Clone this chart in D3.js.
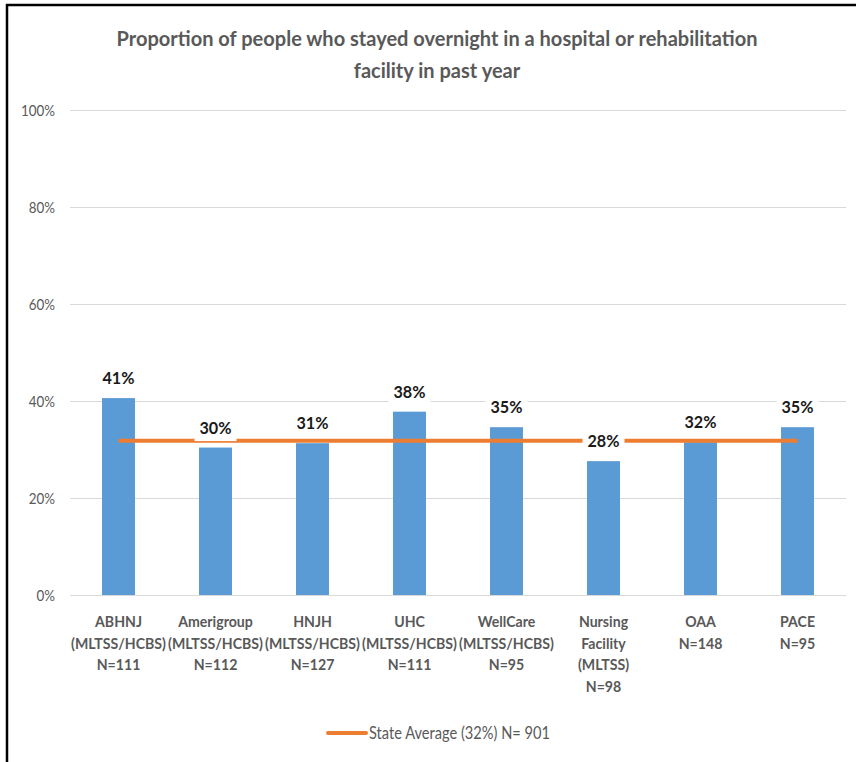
<!DOCTYPE html>
<html><head><meta charset="utf-8">
<script src="https://cdn.jsdelivr.net/npm/d3@7"></script>
<style>
body{margin:0;background:#fff}
svg{display:block}
text{font-family:Lato,"Open Sans",sans-serif}
</style>
</head><body><svg id="c" width="856" height="762"></svg>
<script>
// ---- data ----
const categories = [
  ["ABHNJ","(MLTSS/HCBS)","N=111"],
  ["Amerigroup","(MLTSS/HCBS)","N=112"],
  ["HNJH","(MLTSS/HCBS)","N=127"],
  ["UHC","(MLTSS/HCBS)","N=111"],
  ["WellCare","(MLTSS/HCBS)","N=95"],
  ["Nursing","Facility","(MLTSS)","N=98"],
  ["OAA","N=148"],
  ["PACE","N=95"]
];
const values = [40.6, 30.4, 31.3, 37.8, 34.6, 27.6, 31.5, 34.6];
const valueLabels = ["41%","30%","31%","38%","35%","28%","32%","35%"];
const stateAverage = 31.8;
const yTicks = [0, 20, 40, 60, 80, 100];
const yTickLabels = ["0%","20%","40%","60%","80%","100%"];
const titleLines = ["Proportion of people who stayed overnight in a hospital or rehabilitation","facility in past year"];
const legendLabel = "State Average (32%) N= 901";

// ---- chart ----
(function(){
const svg = d3.select("#c");
const W = 856, H = 762;
const mL = 70, mR = 846, mT = 110, mB = 595;

// horizontally condense a group of texts so that a reference element gets a target width
function condense(sel, refNode, target){
  const k = target / refNode.getComputedTextLength();
  sel.each(function(){
    const w = this.getComputedTextLength();
    d3.select(this).attr("textLength", w*k).attr("lengthAdjust","spacingAndGlyphs");
  });
}

const idx = d3.range(categories.length);
const x = d3.scaleBand().domain(idx).range([mL, mR]).paddingInner(0.66).paddingOuter(0.33);
const y = d3.scaleLinear().domain([0, 100]).range([mB, mT]);

// border
svg.append("path").attr("d", `M7,${H} V5 H${W}`).attr("fill","none").attr("stroke","#000").attr("stroke-width",2.5);

// title
const tt = svg.append("g").selectAll("text").data(titleLines).join("text")
  .attr("x", 437).attr("y", (d,i)=>45.5 + i*32)
  .attr("text-anchor","middle").attr("fill","#595959")
  .attr("font-size", 21).attr("font-weight","bold")
  .text(d=>d);
condense(tt, tt.nodes()[0], 641);

// y axis + gridlines
const yAxis = d3.axisLeft(y).tickValues(yTicks).tickFormat((d,i)=>yTickLabels[i])
  .tickSize(-(mR-mL)).tickPadding(15);
const gy = svg.append("g").attr("transform",`translate(${mL},0)`).call(yAxis);
gy.select(".domain").remove();
gy.selectAll(".tick line").attr("stroke","#d9d9d9").attr("stroke-width",1);
const yt = gy.selectAll(".tick text").attr("fill","#595959").attr("font-size",16)
  .style("font-family",'Lato,"Open Sans",sans-serif');
condense(yt, yt.nodes()[yt.nodes().length-1], 34);

// bars
svg.append("g").selectAll("rect").data(values).join("rect")
  .attr("x",(d,i)=>x(i)).attr("width",x.bandwidth())
  .attr("y",d=>y(d)).attr("height",d=>y(0)-y(d))
  .attr("fill","#5B9BD5");

// state average line
const avgLine = d3.line().x(d=>x(d)+x.bandwidth()/2).y(()=>y(stateAverage));
svg.append("path").attr("d", avgLine([idx[0], idx[idx.length-1]]))
  .attr("stroke","#ED7D31").attr("stroke-width",4).attr("fill","none");

// value labels
const lg = svg.append("g").selectAll("g").data(values).join("g")
  .attr("transform",(d,i)=>`translate(${x(i)+x.bandwidth()/2},${y(d)-14})`);
lg.append("rect").attr("x",-21).attr("y",-16).attr("width",42).attr("height",23.5).attr("fill","#fff");
const vt = lg.append("text").attr("text-anchor","middle").attr("font-size",17).attr("font-weight","bold")
  .attr("fill","#1a1a1a").text((d,i)=>valueLabels[i]);
condense(vt, vt.nodes()[1], 32);

// x labels
const xg = svg.append("g").selectAll("g").data(categories).join("g")
  .attr("transform",(d,i)=>`translate(${x(i)+x.bandwidth()/2},627)`);
const xt = xg.selectAll("text").data(d=>d).join("text")
  .attr("text-anchor","middle").attr("fill","#595959").attr("font-size",16).attr("font-weight","bold")
  .attr("x",0).attr("y",(d,i)=>i*21.5).text(d=>d);
condense(xt, xt.filter(d=>d==="(MLTSS/HCBS)").node(), 95);

// legend
svg.append("line").attr("x1",328).attr("x2",366).attr("y1",733).attr("y2",733)
  .attr("stroke","#ED7D31").attr("stroke-width",4).attr("stroke-linecap","round");
const lt = svg.append("text").attr("x",369).attr("y",738.5).attr("fill","#595959").attr("font-size",16.5)
  .text(legendLabel);
condense(lt, lt.node(), 181);
})();
</script>
</body></html>
